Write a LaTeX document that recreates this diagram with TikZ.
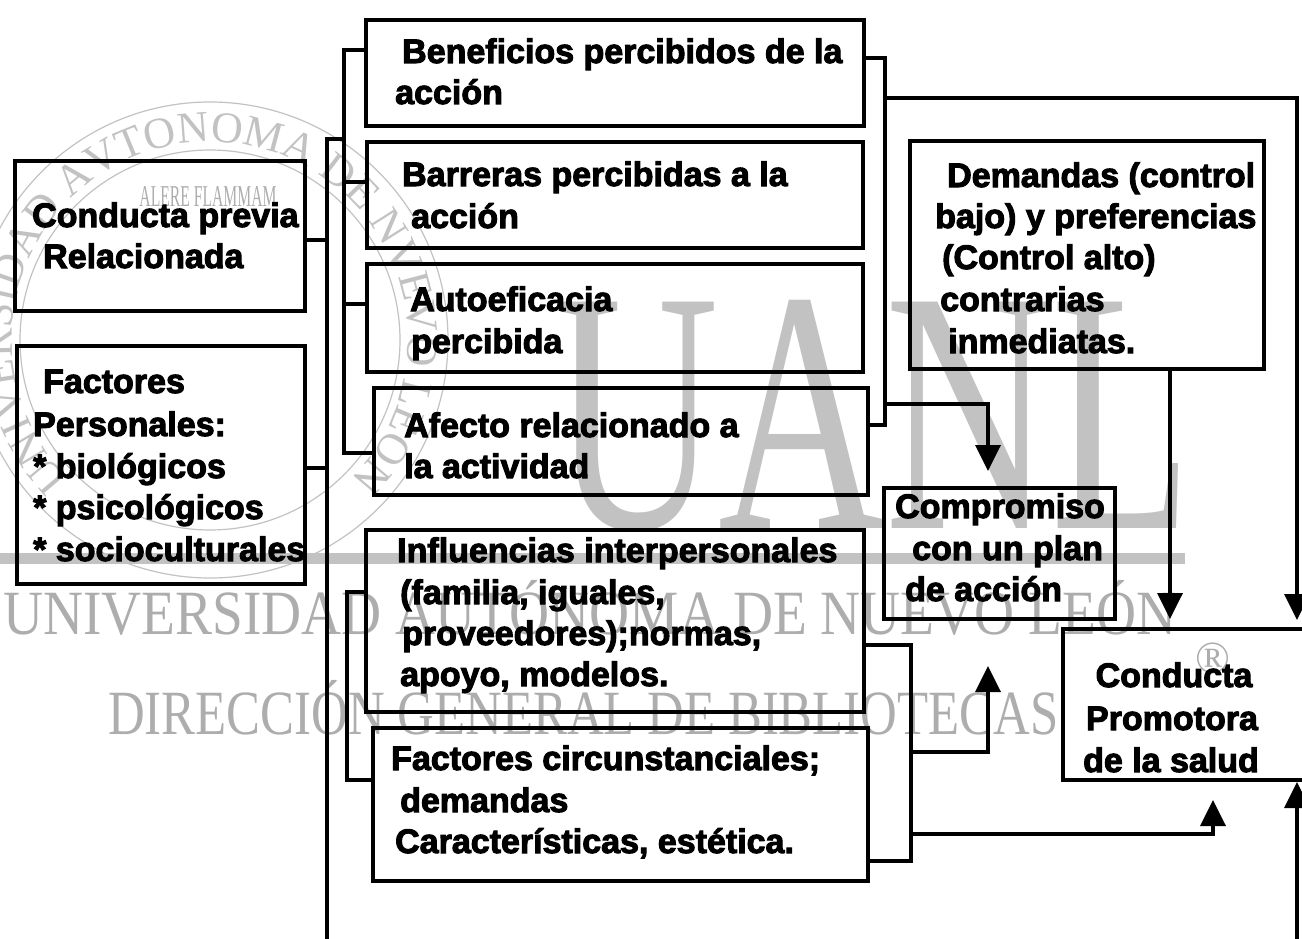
\documentclass[tikz,border=0pt]{standalone}
\usepackage{fontspec}
\setmainfont{Liberation Sans}[BoldFeatures={FakeBold=3}]
\newfontfamily\wmfont{Liberation Serif}
\usetikzlibrary{arrows.meta,decorations.text}
\definecolor{wm}{gray}{0.76}
\definecolor{wmt}{gray}{0.68}
\begin{document}
\begin{tikzpicture}[x=1pt,y=-1pt,
  box/.style={draw=black, line width=4pt, rectangle, inner sep=0pt, outer sep=0pt},
  ln/.style={draw=black, line width=3.6pt},
  arr/.style={ln, -{Triangle[width=25pt,length=26pt]}},
  txt/.style={anchor=base west, inner sep=0pt, font=\fontsize{34}{42}\selectfont\bfseries},
  ctxt/.style={txt, anchor=base},
  wmark/.style={inner sep=0pt, text=wmt, font=\wmfont}]
\useasboundingbox (0,0) rectangle (1302,939);
\clip (0,0) rectangle (1302,939);
% ---------- watermark ----------
\draw[wm, line width=1.2pt] (210,340) circle[radius=238];
\draw[wm, line width=1.2pt] (210,340) circle[radius=190];
\path[decorate, decoration={text along path, text color=wm, text align=center,
   text={|\wmfont\fontsize{44}{44}\selectfont|UNIVERSIDAD AVTONOMA DE NVEVO LEON}}]
   (210,340) ++(112:198) arc[start angle=112, end angle=428, radius=198];
\node[wmark] (wm4) at (208,197) {\resizebox{137pt}{20pt}{ALERE FLAMMAM}};
\node[wmark, text=wm, anchor=south west] (wmU) at (552,532) {\resizebox{640pt}{228pt}{UANL}};
\fill[wm] (0,553) rectangle (1185,564);
\node[wmark, anchor=base west] (wm1) at (3,634) {\scalebox{0.88}[1]{\fontsize{63}{63}\selectfont UNIVERSIDAD AUTÓNOMA DE NUEVO LEÓN}};
\node[wmark, anchor=base west] (wm2) at (108,734) {\scalebox{0.807}[1]{\fontsize{63}{63}\selectfont DIRECCIÓN GENERAL DE BIBLIOTECAS}};
\node[wmark] (wm3) at (1213,658) {\fontsize{46}{46}\selectfont ®};
% ---------- boxes ----------
\node[box, minimum width=498pt, minimum height=106pt] (ben) at (615,73) {};
\node[box, minimum width=496pt, minimum height=106pt] (bar) at (615,195) {};
\node[box, minimum width=496pt, minimum height=108pt] (aut) at (615,318) {};
\node[box, minimum width=494pt, minimum height=107pt] (afe) at (621,441.5) {};
\node[box, minimum width=498pt, minimum height=182pt] (inf) at (615,621) {};
\node[box, minimum width=495pt, minimum height=153pt] (fci) at (620.5,804.5) {};
\node[box, minimum width=290pt, minimum height=150pt] (cpr) at (160,236) {};
\node[box, minimum width=288pt, minimum height=238pt] (fpe) at (161,465) {};
\node[box, minimum width=354pt, minimum height=228pt] (dem) at (1087,255) {};
\node[box, minimum width=231pt, minimum height=131pt] (com) at (999.5,553.5) {};
\node[box, minimum width=267pt, minimum height=151pt] (pro) at (1196.5,704.5) {};
% ---------- connectors ----------
\draw[ln] (ben.west |- 0,50) -- (344,50) -- (344,453) -- (afe.west |- 0,453);
\draw[ln] (344,182) -- (bar.west |- 0,182);
\draw[ln] (344,304) -- (aut.west |- 0,304);
\draw[ln] (344,139) -- (327,139) -- (327,945);
\draw[ln] (cpr.east |- 0,240) -- (327,240);
\draw[ln] (fpe.east |- 0,468) -- (327,468);
\draw[ln] (inf.west |- 0,592) -- (347,592) -- (347,780) -- (fci.west |- 0,780);
\draw[ln] (ben.east |- 0,58) -- (885,58) -- (885,425) -- (afe.east |- 0,425);
\draw[arr, shorten >=9pt] (885,98) -- (1297,98) -- (1297,0 |- pro.north);
\draw[arr, shorten >=10pt] (dem.south -| 1170,0) -- (1170,0 |- pro.north);
\draw[arr, shorten >=17pt] (885,404) -- (988,404) -- (988,0 |- com.north);
\draw[ln] (inf.east |- 0,645) -- (911,645) -- (911,861) -- (fci.east |- 0,861);
\draw[arr, shorten >=47pt] (911,752) -- (988,752) -- (988,0 |- com.south);
\draw[arr, shorten >=20pt] (911,834) -- (1213,834) -- (1213,0 |- pro.south);
\draw[arr, shorten >=2pt] (1297,945) -- (1297,0 |- pro.south);
% ---------- texts ----------
\node[txt] (ben1) at (402,63) {Beneficios percibidos de la};
\node[txt] (ben2) at (395,104) {acción};
\node[txt] (bar1) at (402,186) {Barreras percibidas a la};
\node[txt] (bar2) at (411,228) {acción};
\node[txt] (aut1) at (410,311) {Autoeficacia};
\node[txt] (aut2) at (411,353) {percibida};
\node[txt] (afe1) at (404,437) {Afecto relacionado a};
\node[txt] (afe2) at (404,478) {la actividad};
\node[txt] (inf1) at (397,562) {Influencias interpersonales};
\node[txt] (inf2) at (400,604) {(familia, iguales,};
\node[txt] (inf3) at (402,645) {proveedores);normas,};
\node[txt] (inf4) at (400,686) {apoyo, modelos.};
\node[txt] (fci1) at (391,770) {Factores circunstanciales;};
\node[txt] (fci2) at (400,812) {demandas};
\node[txt] (fci3) at (395,853) {Características, estética.};
\node[txt] (cpr1) at (32,227) {Conducta previa};
\node[txt] (cpr2) at (43,268) {Relacionada};
\node[txt] (fpe1) at (43,393) {Factores};
\node[txt] (fpe2) at (33,436) {Personales:};
\node[txt] (fpe3) at (33,478) {* biológicos};
\node[txt] (fpe4) at (33,519) {* psicológicos};
\node[txt] (fpe5) at (33,561) {* socioculturales};
\node[txt] (dem1) at (947,187) {Demandas (control};
\node[txt] (dem2) at (935,228) {bajo) y preferencias};
\node[txt] (dem3) at (942,269) {(Control alto)};
\node[txt] (dem4) at (940,311) {contrarias};
\node[txt] (dem5) at (948,353) {inmediatas.};
\node[txt] (com1) at (895,518) {Compromiso};
\node[txt] (com2) at (912,560) {con un plan};
\node[txt] (com3) at (905,601) {de acción};
\node[ctxt] (pro1) at (1174,687) {Conducta};
\node[ctxt] (pro2) at (1172,730) {Promotora};
\node[ctxt] (pro3) at (1171,772) {de la salud};
\end{tikzpicture}
\end{document}
